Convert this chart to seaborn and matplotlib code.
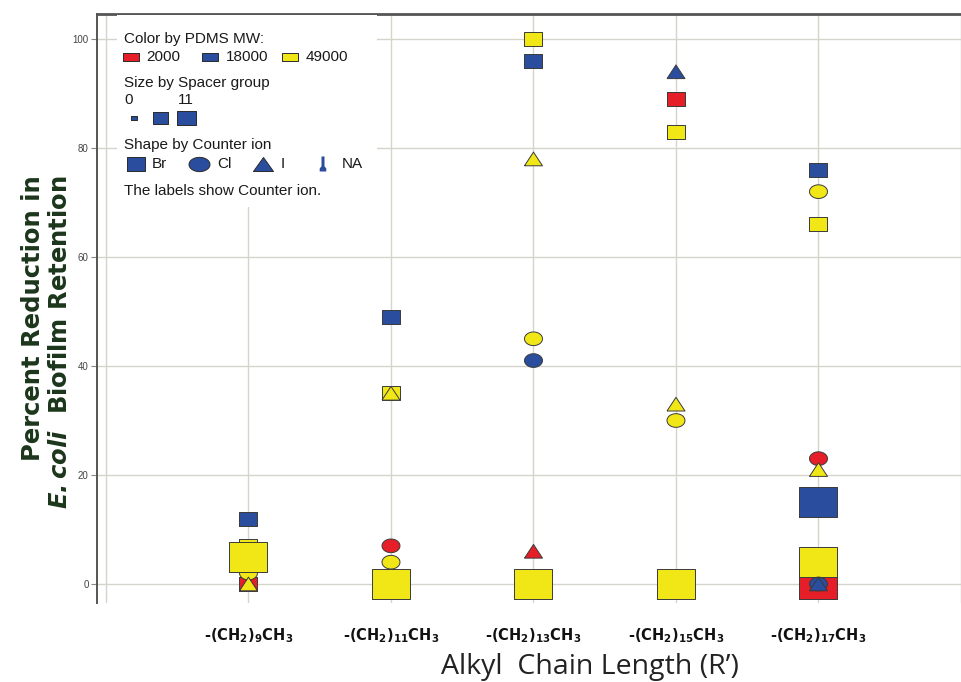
import numpy as np
import pandas as pd
import matplotlib
matplotlib.use("Agg")
import matplotlib.pyplot as plt
from matplotlib.patches import Rectangle
import seaborn as sns

# values
chain_order = ["C10", "C12", "C14", "C16", "C18"]
chain_labels = [
    r"-(CH$_\mathbf{2}$)$_\mathbf{9}$CH$_\mathbf{3}$",
    r"-(CH$_\mathbf{2}$)$_\mathbf{11}$CH$_\mathbf{3}$",
    r"-(CH$_\mathbf{2}$)$_\mathbf{13}$CH$_\mathbf{3}$",
    r"-(CH$_\mathbf{2}$)$_\mathbf{15}$CH$_\mathbf{3}$",
    r"-(CH$_\mathbf{2}$)$_\mathbf{17}$CH$_\mathbf{3}$",
]
chain = ["C10"] * 6 + ["C12"] * 6 + ["C14"] * 7 + ["C16"] * 6 + ["C18"] * 10
reduction = [12, 7, 0, 2, 0, 5,
             49, 35, 35, 7, 4, 0,
             100, 96, 78, 45, 41, 6, 0,
             94, 89, 83, 33, 30, 0,
             76, 72, 66, 23, 21, 15, 0, 4, 0, 0]
pdms_mw = [18000, 49000, 2000, 49000, 49000, 49000,
           18000, 49000, 49000, 2000, 49000, 49000,
           49000, 18000, 49000, 49000, 18000, 2000, 49000,
           18000, 2000, 49000, 49000, 49000, 49000,
           18000, 49000, 49000, 2000, 49000, 18000, 2000, 49000, 18000, 18000]
counter_ion = ["Br", "Br", "Br", "Cl", "I", "Br",
               "Br", "Br", "I", "Cl", "Cl", "Br",
               "Br", "Br", "I", "Cl", "Cl", "I", "Br",
               "I", "Br", "Br", "I", "Cl", "Br",
               "Br", "Cl", "Br", "Cl", "I", "Br", "Br", "Br", "Cl", "I"]
spacer = [6, 6, 6, 6, 6, 11,
          6, 6, 6, 6, 6, 11,
          6, 6, 6, 6, 6, 6, 11,
          6, 6, 6, 6, 6, 11,
          6, 6, 6, 6, 6, 11, 11, 11, 6, 6]

df = pd.DataFrame({
    "chain": pd.Categorical(chain, categories=chain_order),
    "reduction": reduction,
    "mw": pdms_mw,
    "ion": counter_ion,
    "spacer": spacer,
})

colors = {2000: "#e61e27", 18000: "#2a4e9d", 49000: "#f1e717"}


def box(w=1.0, h=0.78):
    return [(-w / 2, -h / 2), (w / 2, -h / 2), (w / 2, h / 2), (-w / 2, h / 2), (-w / 2, -h / 2)]


def ellipse(w=1.0, h=0.76):
    t = np.linspace(0, 2 * np.pi, 41)
    return list(zip(w / 2 * np.cos(t), h / 2 * np.sin(t)))


def tri(w=1.0, h=0.76):
    return [(-w / 2, -h / 2), (w / 2, -h / 2), (0, h / 2), (-w / 2, -h / 2)]


def s_px(px):
    return (px * 0.72) ** 2


shapes = {"Br": box(), "Cl": ellipse(), "I": tri()}

sns.set_style("whitegrid", {"grid.color": "#d6d3ca"})
plt.rcParams["font.family"] = ["Liberation Sans", "DejaVu Sans"]
plt.rcParams["mathtext.fontset"] = "dejavusans"

W, H = 961, 682
fig = plt.figure(figsize=(W / 100, H / 100), dpi=100)
ax = fig.add_axes([97 / W, 1 - 603 / H, 864 / W, 589 / H])


def fx(px):
    return px / W


def fy(py):
    return 1 - py / H


sns.scatterplot(data=df, x="chain", y="reduction", hue="mw", size="spacer", style="ion",
                palette=colors, sizes={6: s_px(18), 11: s_px(38)}, markers=shapes,
                edgecolor="#3a3a3a", linewidth=0.7, legend=False, ax=ax, zorder=3)

ax.set_xlim(-1.063, 4.98)
ax.set_ylim(-3.49, 104.6)
ax.set_xticks(range(-1, 6))
ax.set_xticklabels([""] + chain_labels + [""], fontsize=10.5, fontweight="bold",
                   family="DejaVu Sans", color="#111111")
ax.set_yticks(range(0, 101, 20))
ax.tick_params(axis="x", length=0, pad=17)
ax.tick_params(axis="y", length=4, width=0.8, color="#888888", labelsize=7,
               labelcolor="#444444", pad=2, left=True)
ax.set_xlabel("")
ax.set_ylabel("")
ax.grid(True, color="#d6d3ca", linewidth=1.0)
ax.set_axisbelow(True)
for side in ["right", "bottom"]:
    ax.spines[side].set_visible(False)
ax.spines["top"].set_color("#555555")
ax.spines["top"].set_linewidth(2)
ax.spines["left"].set_color("#555555")
ax.spines["left"].set_linewidth(1.4)

# axis titles
fig.text(fx(590), fy(667), "Alkyl  Chain Length (R\u2019)", fontsize=20.5, family="Open Sans",
         ha="center", va="center", color="#222222")
ylab = "#1c361c"
fig.text(fx(33), fy(175), "Percent Reduction in", rotation=90, ha="center", va="top",
         fontsize=17.5, fontweight="bold", family="DejaVu Sans", color=ylab)
fig.text(fx(60), fy(175), r"$\mathbfit{E{.}coli}$  Biofilm Retention", rotation=90,
         ha="center", va="top", fontsize=17.5, fontweight="bold", family="DejaVu Sans",
         color=ylab)

# legend panel
ax.add_patch(Rectangle((fx(117), fy(207)), fx(377) - fx(117), fy(15) - fy(207),
                       transform=fig.transFigure, facecolor="white", edgecolor="none",
                       zorder=4, clip_on=False))


def key(px, py, marker, size_px, color):
    ax.scatter([fx(px)], [fy(py)], marker=marker, s=s_px(size_px), color=color,
               edgecolor="#2a2a2a", linewidth=0.7, transform=fig.transFigure,
               zorder=5, clip_on=False)


def note(px, py, txt):
    fig.text(fx(px), fy(py), txt, fontsize=11, ha="left", va="center",
             color="#1a1a1a", zorder=6)


note(124, 39, "Color by PDMS MW:")
for cx, tx, mw in [(131, 146, 2000), (210, 226, 18000), (290, 306, 49000)]:
    key(cx, 57, box(1.0, 0.56), 16, colors[mw])
    note(tx, 57, str(mw))

note(124, 83, "Size by Spacer group")
note(124, 100, "0")
note(178, 100, "11")
key(134, 118, box(), 6, colors[18000])
key(160, 118, box(), 15, colors[18000])
key(186, 118, box(), 19, colors[18000])

note(124, 145, "Shape by Counter ion")
key(136, 164, box(), 18, colors[18000])
note(152, 164, "Br")
key(199, 164, ellipse(1.0, 0.68), 21, colors[18000])
note(217, 164, "Cl")
key(263, 164, tri(1.0, 0.7), 20, colors[18000])
note(281, 164, "I")
na_mark = [(-0.1, 0.5), (0.1, 0.5), (0.1, -0.15), (0.22, -0.3), (0.22, -0.5),
           (-0.22, -0.5), (-0.22, -0.3), (-0.1, -0.15), (-0.1, 0.5)]
ax.scatter([fx(323)], [fy(164)], marker=na_mark, s=s_px(15), color=colors[18000],
           edgecolor="none", transform=fig.transFigure, zorder=5, clip_on=False)
note(342, 164, "NA")
note(124, 191, "The labels show Counter ion.")

fig.savefig("out.png", dpi=100)
